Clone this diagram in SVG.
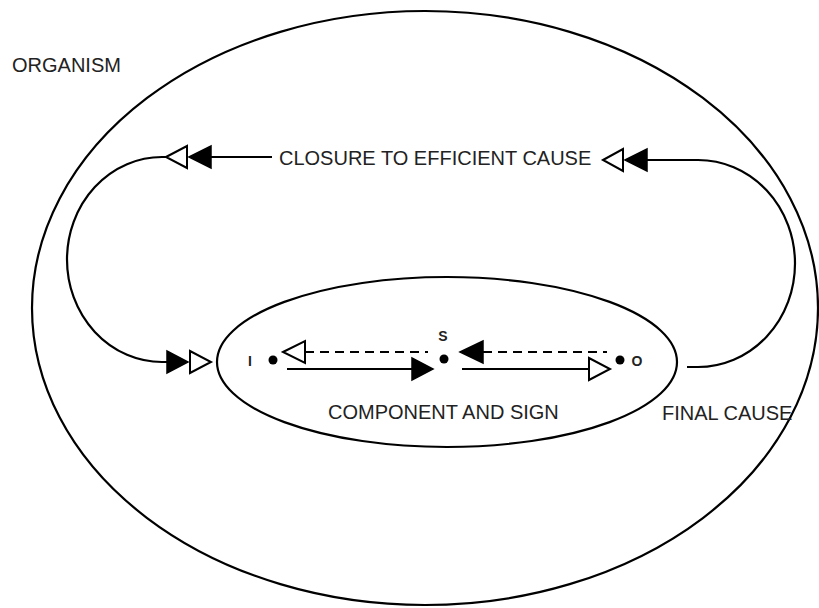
<svg xmlns="http://www.w3.org/2000/svg" width="819" height="608" viewBox="0 0 819 608">
<style>
.ln{fill:none;stroke:#000;stroke-width:2.2}
.dash{fill:none;stroke:#000;stroke-width:2.2;stroke-dasharray:9 6}
.open{fill:#fff;stroke:#000;stroke-width:2}
.fill{fill:#000;stroke:#000;stroke-width:1.5}
.lbl{font-family:"Liberation Sans",Arial,sans-serif;font-size:20px;fill:#222}
.pt{font-family:"Liberation Sans",Arial,sans-serif;font-size:14px;font-weight:bold;fill:#222}
</style>
<rect width="819" height="608" fill="#fff"/>
<g id="organism">
<ellipse class="ln" cx="425" cy="308" rx="393" ry="297"/>
<text class="lbl" x="12" y="72">ORGANISM</text>
</g>
<g id="component">
<ellipse class="ln" cx="447" cy="362" rx="230" ry="85"/>
<text class="lbl" x="328" y="419">COMPONENT AND SIGN</text>
</g>
<g id="node-I">
<circle cx="273" cy="360" r="4.5" fill="#000"/>
<text class="pt" x="250" y="366" text-anchor="middle">I</text>
</g>
<g id="node-S">
<circle cx="444" cy="359" r="4.5" fill="#000"/>
<text class="pt" x="443" y="341" text-anchor="middle">S</text>
</g>
<g id="node-O">
<circle cx="620" cy="360" r="4.5" fill="#000"/>
<text class="pt" x="637" y="366" text-anchor="middle">O</text>
</g>
<g id="label-closure">
<text class="lbl" x="279" y="165">CLOSURE TO EFFICIENT CAUSE</text>
</g>
<g id="label-final">
<text class="lbl" x="662" y="420">FINAL CAUSE</text>
</g>
<g id="connectors">
<!-- top left -->
<line class="ln" x1="211" y1="157" x2="272" y2="157"/>
<polygon class="fill" points="189,157 211,146 211,168"/>
<polygon class="open" points="166,157 187,146 187,168"/>
<path class="ln" d="M166,157 L162,157 A95,102.5 0 0 0 162,362 L168,362"/>
<polygon class="fill" points="167,351 167,373 188,362"/>
<polygon class="open" points="190,351 190,373 211,362"/>
<!-- top right -->
<polygon class="open" points="603,160 623,149 623,171"/>
<polygon class="fill" points="625,160 647,149 647,171"/>
<path class="ln" d="M647,160 L698,160 A97,103.5 0 0 1 698,367 L687,367"/>
<!-- I-S -->
<line class="dash" x1="305" y1="352" x2="428" y2="352"/>
<polygon class="open" points="283,352 305,341 305,363"/>
<line class="ln" x1="287" y1="369" x2="412" y2="369"/>
<polygon class="fill" points="412,358 412,380 433,369"/>
<!-- S-O -->
<polygon class="fill" points="460,352 483,341 483,363"/>
<line class="dash" x1="483" y1="352" x2="607" y2="352"/>
<line class="ln" x1="462" y1="369" x2="589" y2="369"/>
<polygon class="open" points="589,358 589,380 610,369"/>
</g>
</svg>
